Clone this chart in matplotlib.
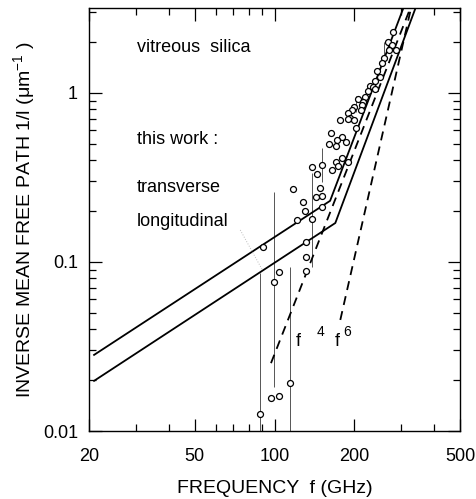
import numpy as np
import matplotlib.pyplot as plt

plt.rcParams['font.family'] = ['Liberation Sans', 'DejaVu Sans']

# ---------------------------------------------------------------- data
# measured points: frequency (GHz), inverse mean free path (1/um)
freq = [280, 268, 277, 271, 286, 258, 254, 244, 249, 240, 230, 235, 240, 226,
        220, 206, 216, 214, 199, 212, 196, 190, 193, 199, 189, 177, 202, 163,
        179, 161, 172, 170, 186, 179, 170, 189, 173, 139, 151, 145, 165, 117,
        148, 151, 143, 128, 130, 151, 122, 139, 131, 90.5, 131, 131, 104, 99.6,
        114, 96.6, 104, 87.8]
inv_l = [2.29, 2.01, 1.92, 1.80, 1.80, 1.60, 1.50, 1.34, 1.25, 1.17, 1.10, 1.08,
         1.05, 1.02, 0.95, 0.918, 0.888, 0.849, 0.830, 0.793, 0.793, 0.758, 0.708,
         0.692, 0.699, 0.692, 0.623, 0.577, 0.547, 0.499, 0.527, 0.488, 0.515,
         0.411, 0.392, 0.389, 0.371, 0.366, 0.375, 0.332, 0.350, 0.269, 0.275,
         0.247, 0.241, 0.226, 0.201, 0.211, 0.176, 0.179, 0.132, 0.122, 0.107,
         0.0888, 0.0877, 0.0764, 0.0193, 0.0157, 0.0162, 0.0126]

# error bars: frequency, lower, upper
err_f = [87.8, 99.6, 114, 139, 151, 202, 258]
err_lo = [0.005, 0.0182, 0.005, 0.0934, 0.297, 0.772, 1.66]
err_hi = [0.0861, 0.259, 0.0934, 0.336, 0.473, 0.96, 2.0]

# "this work" fits
trans_f = [20.9, 162, 306]
trans_v = [0.0282, 0.23, 3.18]
long_f = [20.9, 169.5, 340]
long_v = [0.0198, 0.170, 3.18]

# power laws
f4_f = [97, 325]
f4_v = [0.0252, 3.18]
f6_f = [177, 327]
f6_v = [0.0454, 3.18]

# -----------------------------------------------------------------------------
fig = plt.figure(figsize=(4.76, 4.99), dpi=100)
ax = fig.add_axes([89/476, 68/499, 371/476, 423/499])

ax.vlines(err_f, err_lo, err_hi, color='#555555', lw=0.7)
ax.plot(trans_f, trans_v, color='black', lw=1.3)
ax.plot(long_f, long_v, color='black', lw=1.3)
ax.plot(f4_f, f4_v, color='black', lw=1.3, ls=(0, (5, 3.5)))
ax.plot(f6_f, f6_v, color='black', lw=1.3, ls=(0, (5, 3.5)))
ax.plot(freq, inv_l, 'o', mfc='white', mec='black', ms=4.3, mew=0.9)
ax.plot([74.3, 90], [0.1546, 0.0897], color='#bbbbbb', lw=0.7, ls=':')

ax.set_xscale('log')
ax.set_yscale('log')
ax.set_xlim(20, 500)
ax.set_ylim(0.01, 3.18)
ax.set_xticks([20, 50, 100, 200, 500])
ax.set_xticklabels(['20', '50', '100', '200', '500'])
ax.set_yticks([0.01, 0.1, 1])
ax.set_yticklabels(['0.01', '0.1', '1'])
ax.tick_params(which='both', direction='in', top=True, right=True,
               labelsize=13, width=0.9)
ax.tick_params(which='major', length=9, pad=8)
ax.tick_params(axis='x', which='major', pad=12)
ax.tick_params(which='minor', length=5)
for s in ax.spines.values():
    s.set_linewidth(1.0)

ax.set_xlabel('FREQUENCY  f (GHz)', fontsize=14, labelpad=11)
ax.set_ylabel(r'INVERSE MEAN FREE PATH 1/l ($\mathregular{\mu m^{-1}}$ )',
              fontsize=14, labelpad=4)

tk = dict(fontsize=13, transform=ax.transAxes, va='center')
ax.text(48/371, 1 - 40/423, 'vitreous  silica', **tk)
ax.text(48/371, 1 - 132/423, 'this work :', **tk)
ax.text(48/371, 1 - 179/423, 'transverse', **tk)
ax.text(48/371, 1 - 214/423, 'longitudinal', **tk)
ax.text(207/371, 1 - 333/423, 'f', **tk)
ax.text(228/371, 1 - 324/423, '4', fontsize=10, transform=ax.transAxes, va='center')
ax.text(246/371, 1 - 333/423, 'f', **tk)
ax.text(254/371, 1 - 324/423, '6', fontsize=10, transform=ax.transAxes, va='center')

plt.savefig('out.png', dpi=100)
